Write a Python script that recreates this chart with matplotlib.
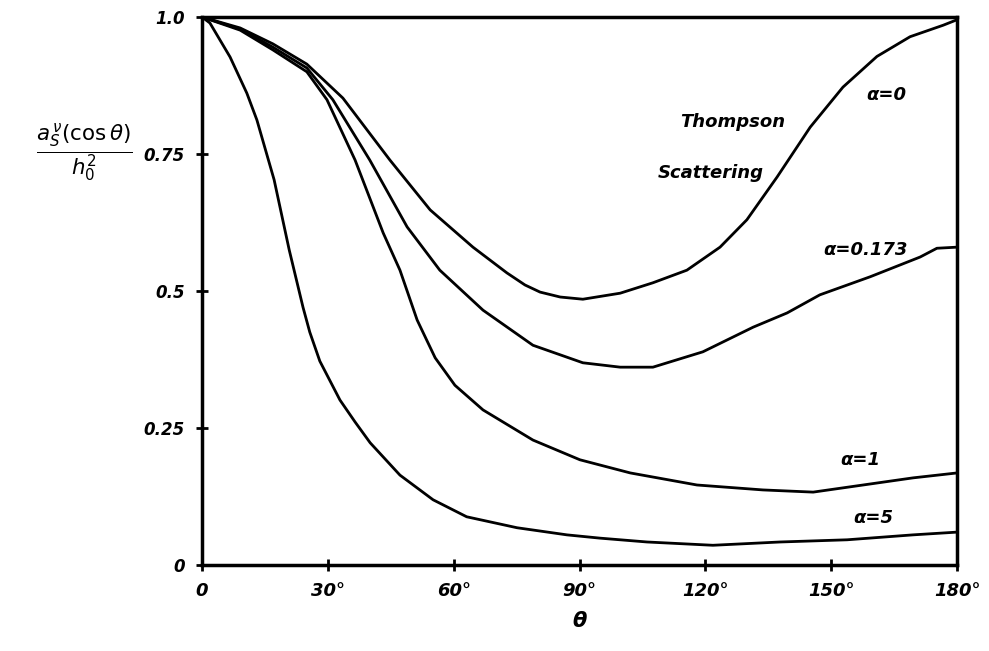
import matplotlib
matplotlib.use("Agg")
import matplotlib.pyplot as plt

# curves (theta in degrees, normalised amplitude)
theta_a0 = [0, 9.1, 16.9, 25.0, 33.6, 44.8, 54.4, 64.6, 72.7, 77.0, 80.6, 85.4, 90.8, 99.7,
            107.5, 115.6, 123.5, 129.9, 137.1, 145.0, 152.8, 160.9, 168.8, 176.7, 180]
val_a0 = [1.0, 0.980, 0.951, 0.914, 0.852, 0.739, 0.648, 0.580, 0.533, 0.511, 0.498, 0.489, 0.485, 0.496,
          0.515, 0.538, 0.580, 0.630, 0.708, 0.799, 0.872, 0.928, 0.964, 0.985, 0.995]

theta_a0173 = [0, 9.1, 16.9, 25.0, 31.2, 40.0, 48.9, 56.7, 67.0, 78.9, 90.8, 99.7,
               107.5, 119.4, 131.4, 139.5, 147.3, 159.3, 171.2, 175.2, 180]
val_a0173 = [1.0, 0.978, 0.945, 0.907, 0.849, 0.739, 0.617, 0.538, 0.465, 0.401, 0.369, 0.361,
             0.361, 0.389, 0.434, 0.460, 0.493, 0.526, 0.562, 0.578, 0.580]

theta_a1 = [0, 9.1, 16.9, 25.0, 29.8, 36.5, 43.2, 47.2, 51.3, 53.6, 55.6, 60.3, 67.0,
            78.9, 90.1, 102.1, 118.0, 133.7, 145.7, 157.6, 169.5, 180]
val_a1 = [1.0, 0.976, 0.940, 0.900, 0.849, 0.739, 0.606, 0.538, 0.447, 0.410, 0.378, 0.328, 0.283,
          0.228, 0.192, 0.168, 0.146, 0.137, 0.133, 0.146, 0.159, 0.168]

theta_a5 = [0, 1.9, 6.7, 10.7, 13.1, 17.2, 20.8, 24.1, 25.7, 28.1, 32.9, 36.5, 40.1, 47.2,
            55.1, 63.1, 75.1, 87.0, 94.9, 106.1, 121.8, 137.8, 153.8, 169.5, 180]
val_a5 = [1.0, 0.989, 0.927, 0.861, 0.812, 0.703, 0.575, 0.470, 0.425, 0.372, 0.301, 0.261, 0.223, 0.164,
          0.119, 0.088, 0.068, 0.055, 0.049, 0.042, 0.036, 0.042, 0.046, 0.055, 0.060]

xticks = [0, 30, 60, 90, 120, 150, 180]
xtick_labels = ['0', '30°', '60°', '90°', '120°', '150°', '180°']
yticks = [0, 0.25, 0.5, 0.75, 1.0]
ytick_labels = ['0', '0.25', '0.5', '0.75', '1.0']

hand = dict(fontstyle='italic', fontweight='bold', color='black')

fig = plt.figure(figsize=(9.89, 6.51), dpi=100)
ax = fig.add_axes([0.2042, 0.1321, 0.7635, 0.8418])

for th, v in [(theta_a0, val_a0), (theta_a0173, val_a0173),
              (theta_a1, val_a1), (theta_a5, val_a5)]:
    ax.plot(th, v, color='black', lw=2.0, solid_joinstyle='round', solid_capstyle='round')

ax.set_xlim(0, 180)
ax.set_ylim(0, 1.0)
for s in ax.spines.values():
    s.set_linewidth(2.5)

ax.set_xticks(xticks)
ax.set_xticklabels(xtick_labels, fontsize=13, **hand)
ax.set_yticks(yticks)
ax.set_yticklabels(ytick_labels, fontsize=12, **hand)
ax.tick_params(direction='inout', length=9, width=2, pad=8)

ax.set_xlabel('θ', fontsize=15, labelpad=8, **hand)
fig.text(0.085, 0.765, r'$\frac{a_S^{\,\nu}(\cos\theta)}{h_0^{2}}$', fontsize=22,
         ha='center', va='center')

ax.text(163.1, 0.858, 'α=0', fontsize=13, ha='center', va='center', **hand)
ax.text(126.6, 0.808, 'Thompson', fontsize=13, ha='center', va='center', **hand)
ax.text(121.3, 0.715, 'Scattering', fontsize=13, ha='center', va='center', **hand)
ax.text(158.1, 0.575, 'α=0.173', fontsize=13, ha='center', va='center', **hand)
ax.text(156.9, 0.192, 'α=1', fontsize=13, ha='center', va='center', **hand)
ax.text(160.0, 0.086, 'α=5', fontsize=13, ha='center', va='center', **hand)

fig.savefig('out.png', dpi=100)
